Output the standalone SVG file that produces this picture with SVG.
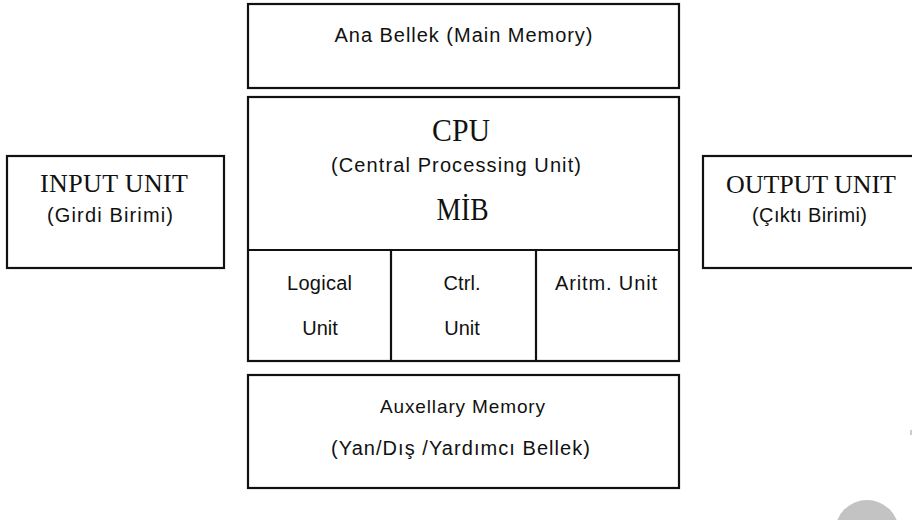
<svg xmlns="http://www.w3.org/2000/svg" width="912" height="520" viewBox="0 0 912 520">
  <style>
    .box { fill: #ffffff; stroke: #111111; stroke-width: 2.2; }
    .line { stroke: #111111; stroke-width: 2.2; fill: none; }
    .sans { font-family: "Liberation Sans", Arial, sans-serif; fill: #111111; text-anchor: middle; }
    .serif { font-family: "Liberation Serif", "Times New Roman", serif; fill: #111111; text-anchor: middle; }
  </style>
  <rect x="0" y="0" width="912" height="520" fill="#ffffff"/>

  <g id="main-memory">
    <rect class="box" x="248" y="4" width="431" height="84"/>
    <text class="sans" x="463.5" y="42" font-size="20" textLength="258">Ana Bellek (Main Memory)</text>
  </g>

  <g id="cpu">
    <rect class="box" x="248" y="97" width="431" height="264"/>
    <text class="serif" x="461" y="141" font-size="31" textLength="58" lengthAdjust="spacingAndGlyphs">CPU</text>
    <text class="sans" x="456" y="172" font-size="20" textLength="250">(Central Processing Unit)</text>
    <text class="serif" x="462.5" y="220" font-size="31" textLength="52" lengthAdjust="spacingAndGlyphs">MİB</text>
  </g>

  <g id="logical-unit">
    <text class="sans" x="319.5" y="290" font-size="20" textLength="65">Logical</text>
    <text class="sans" x="320" y="335" font-size="20">Unit</text>
  </g>

  <g id="control-unit">
    <text class="sans" x="462" y="290" font-size="20" textLength="37">Ctrl.</text>
    <text class="sans" x="462" y="335" font-size="20">Unit</text>
  </g>

  <g id="arithmetic-unit">
    <text class="sans" x="606" y="290" font-size="20" textLength="102">Aritm. Unit</text>
  </g>

  <g id="auxiliary-memory">
    <rect class="box" x="248" y="375" width="431" height="113"/>
    <text class="sans" x="462.5" y="413" font-size="19" textLength="165">Auxellary Memory</text>
    <text class="sans" x="460.5" y="455" font-size="20" textLength="259">(Yan/Dış /Yardımcı Bellek)</text>
  </g>

  <g id="input-unit">
    <rect class="box" x="7" y="156" width="217" height="112"/>
    <text class="serif" x="114" y="192" font-size="26" textLength="148">INPUT UNIT</text>
    <text class="sans" x="110" y="222" font-size="20" textLength="126">(Girdi Birimi)</text>
  </g>

  <g id="output-unit">
    <rect class="box" x="703" y="156" width="222" height="112"/>
    <text class="serif" x="811" y="193" font-size="26" textLength="170">OUTPUT UNIT</text>
    <text class="sans" x="809.5" y="222" font-size="20" textLength="115">(Çıktı Birimi)</text>
  </g>

  <g id="connectors">
    <line class="line" x1="248" y1="250" x2="679" y2="250"/>
    <line class="line" x1="391" y1="250" x2="391" y2="361"/>
    <line class="line" x1="536" y1="250" x2="536" y2="361"/>
  </g>

  <!-- grey disc in the lower right corner -->
  <circle cx="867" cy="532" r="32" fill="#c3c3c3"/>
  <line x1="911" y1="430" x2="911" y2="435" stroke="#bbbbbb" stroke-width="1.5"/>
</svg>
